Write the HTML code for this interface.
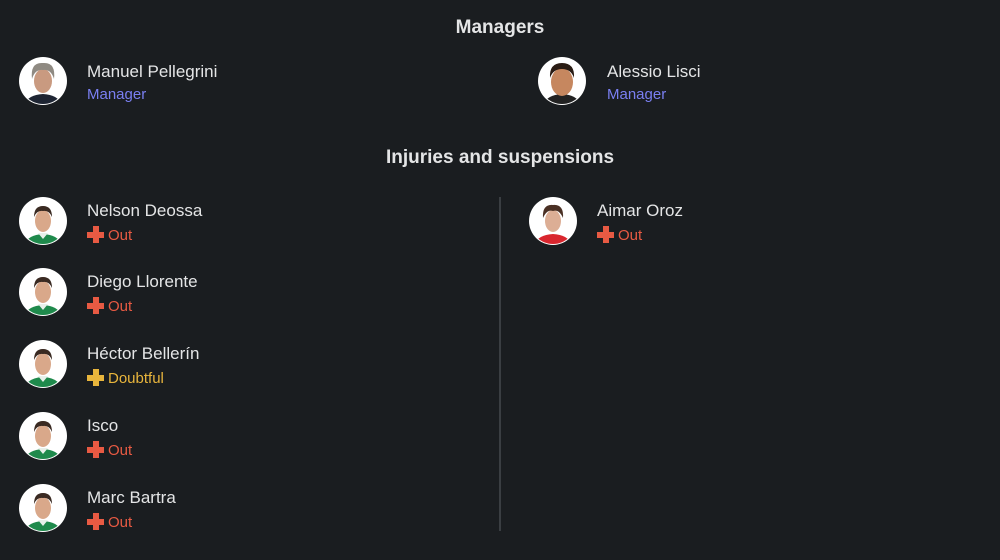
<!DOCTYPE html>
<html><head><meta charset="utf-8"><style>
html,body{margin:0;padding:0;}
body{width:1000px;height:560px;background:#1a1d20;position:relative;overflow:hidden;font-family:"Liberation Sans",sans-serif;color:#e4e5e6;}
.t{position:absolute;left:0;width:1000px;text-align:center;font-weight:bold;font-size:19px;color:#e4e5e6;}
.av{position:absolute;width:48px;height:48px;}
.nm{position:absolute;font-size:17px;color:#e4e5e6;white-space:nowrap;}
.sb{position:absolute;font-size:15px;white-space:nowrap;}
.mg{color:#7a7ff2;}
.out{color:#e85a43;}
.db{color:#e8b53c;}
.x{display:inline-block;position:relative;width:17px;height:17px;vertical-align:-3px;margin-right:4px;}
.x:before{content:"";position:absolute;left:0;top:5.5px;width:17px;height:6px;background:currentColor;}
.x:after{content:"";position:absolute;left:5.5px;top:0;width:6px;height:17px;background:currentColor;}
.dv{position:absolute;left:499px;top:197px;width:2px;height:334px;background:#3a3e42;}
</style></head><body>
<svg width="0" height="0" style="position:absolute"><defs>
<clipPath id="c"><circle cx="24" cy="24" r="23"/></clipPath>
<g id="g"><circle cx="24" cy="24" r="24" fill="#fff"/><g clip-path="url(#c)"><path d="M6 48 Q8 38 24 37 Q40 38 42 48Z" fill="#1f8a4c"/><path d="M19 36 L24 42 L29 36Z" fill="#e8f0ea"/><ellipse cx="24" cy="24" rx="8" ry="11" fill="#d9a88a"/><path d="M15 20 Q15 9 24 9 Q33 9 33 20 Q30 13 24 14 Q18 13 15 20Z" fill="#3a2a22"/></g></g>
<g id="r"><circle cx="24" cy="24" r="24" fill="#fff"/><g clip-path="url(#c)"><path d="M6 48 Q8 38 24 37 Q40 38 42 48Z" fill="#d9262e"/><ellipse cx="24" cy="24" rx="8" ry="11" fill="#dcae95"/><path d="M14 21 Q13 7 24 8 Q35 7 34 21 Q30 12 24 14 Q18 12 14 21Z" fill="#4a3024"/></g></g>
<g id="m1"><circle cx="24" cy="24" r="24" fill="#fff"/><g clip-path="url(#c)"><path d="M6 48 Q8 38 24 37 Q40 38 42 48Z" fill="#1e2533"/><ellipse cx="24" cy="24" rx="9" ry="12" fill="#c99a80"/><path d="M13 22 Q11 5 24 6 Q37 5 35 22 Q32 12 24 13 Q16 12 13 22Z" fill="#8f8a82"/></g></g>
<g id="m2"><circle cx="24" cy="24" r="24" fill="#fff"/><g clip-path="url(#c)"><path d="M6 48 Q8 38 24 37 Q40 38 42 48Z" fill="#222"/><ellipse cx="24" cy="25" rx="11" ry="14" fill="#c6875f"/><path d="M12 21 Q11 6 24 6 Q37 6 36 21 Q33 12 24 12 Q15 12 12 21Z" fill="#2a1c14"/></g></g>
</defs></svg>

<div class="t" style="top:17px">Managers</div>
<svg class="av" style="left:19px;top:57px"><use href="#m1"/></svg>
<div class="nm" style="left:87px;top:62px">Manuel Pellegrini</div>
<div class="sb mg" style="left:87px;top:86px">Manager</div>
<svg class="av" style="left:538px;top:57px"><use href="#m2"/></svg>
<div class="nm" style="left:607px;top:62px">Alessio Lisci</div>
<div class="sb mg" style="left:607px;top:86px">Manager</div>

<div class="t" style="top:147px">Injuries and suspensions</div>
<div class="dv"></div>

<svg class="av" style="left:19px;top:197px"><use href="#g"/></svg>
<div class="nm" style="left:87px;top:201px">Nelson Deossa</div>
<div class="sb out" style="left:87px;top:226px"><span class="x"></span>Out</div>

<svg class="av" style="left:19px;top:268px"><use href="#g"/></svg>
<div class="nm" style="left:87px;top:272px">Diego Llorente</div>
<div class="sb out" style="left:87px;top:297px"><span class="x"></span>Out</div>

<svg class="av" style="left:19px;top:340px"><use href="#g"/></svg>
<div class="nm" style="left:87px;top:344px">Héctor Bellerín</div>
<div class="sb db" style="left:87px;top:369px"><span class="x"></span>Doubtful</div>

<svg class="av" style="left:19px;top:412px"><use href="#g"/></svg>
<div class="nm" style="left:87px;top:416px">Isco</div>
<div class="sb out" style="left:87px;top:441px"><span class="x"></span>Out</div>

<svg class="av" style="left:19px;top:484px"><use href="#g"/></svg>
<div class="nm" style="left:87px;top:488px">Marc Bartra</div>
<div class="sb out" style="left:87px;top:513px"><span class="x"></span>Out</div>

<svg class="av" style="left:529px;top:197px"><use href="#r"/></svg>
<div class="nm" style="left:597px;top:201px">Aimar Oroz</div>
<div class="sb out" style="left:597px;top:226px"><span class="x"></span>Out</div>
</body></html>
